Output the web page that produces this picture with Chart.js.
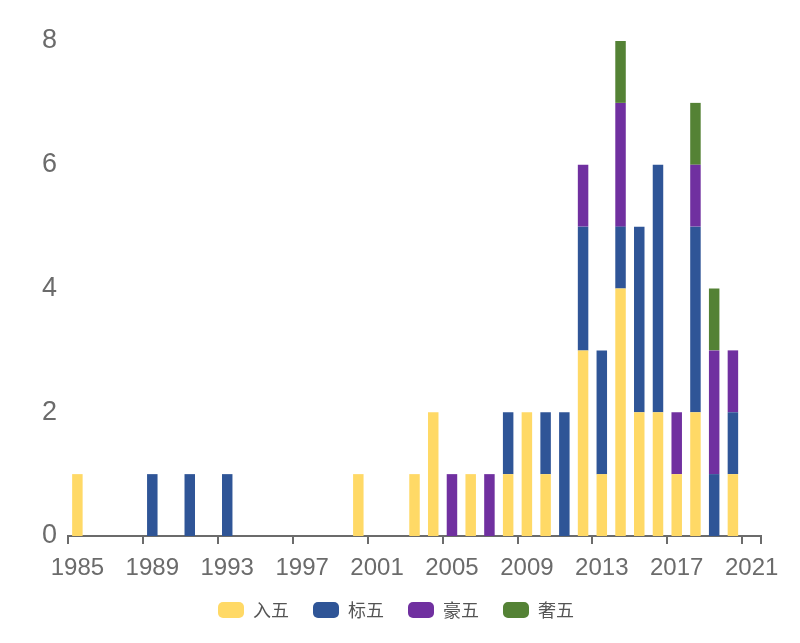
<!DOCTYPE html>
<html>
<head>
<meta charset="utf-8">
<script src="https://cdn.jsdelivr.net/npm/chart.js@4/dist/chart.umd.min.js"></script>
<style>
  html, body { margin: 0; padding: 0; background: #fff; }
  #wrap { width: 800px; height: 643px; }
</style>
</head>
<body>
<div id="wrap"><canvas id="grafico" width="800" height="643"></canvas></div>
<script>
// 年份 1985 - 2021
const years = [];
for (let y = 1985; y <= 2021; y++) years.push(String(y));

//                1985                    1990                    1995                    2000                    2005                    2010                    2015                    2020
const ruWu   = [1, 0, 0, 0, 0, 0, 0, 0, 0, 0, 0, 0, 0, 0, 0, 1, 0, 0, 1, 2, 0, 1, 0, 1, 2, 1, 0, 3, 1, 4, 2, 2, 1, 2, 0, 1, 0];
const biaoWu = [0, 0, 0, 0, 1, 0, 1, 0, 1, 0, 0, 0, 0, 0, 0, 0, 0, 0, 0, 0, 0, 0, 0, 1, 0, 1, 2, 2, 2, 1, 3, 4, 0, 3, 1, 1, 0];
const haoWu  = [0, 0, 0, 0, 0, 0, 0, 0, 0, 0, 0, 0, 0, 0, 0, 0, 0, 0, 0, 0, 1, 0, 1, 0, 0, 0, 0, 1, 0, 2, 0, 0, 1, 1, 2, 1, 0];
const sheWu  = [0, 0, 0, 0, 0, 0, 0, 0, 0, 0, 0, 0, 0, 0, 0, 0, 0, 0, 0, 0, 0, 0, 0, 0, 0, 0, 0, 0, 0, 1, 0, 0, 0, 1, 1, 0, 0];

const yTicks = [0, 2, 4, 6, 8];

const cinza = '#6b6b6b';
const fonte = '"Liberation Sans", Arial, "Noto Sans CJK SC", sans-serif';

const ctx = document.getElementById('grafico').getContext('2d');
new Chart(ctx, {
    type: 'bar',
    data: {
        labels: years,
        datasets: [
            { label: '入五', data: ruWu,   backgroundColor: '#FFD966' },
            { label: '标五', data: biaoWu, backgroundColor: '#2F5597' },
            { label: '豪五', data: haoWu,  backgroundColor: '#7030A0' },
            { label: '奢五', data: sheWu,  backgroundColor: '#548235' }
        ]
    },
    options: {
        responsive: false,
        animation: false,
        datasets: {
            bar: { categoryPercentage: 1, barPercentage: 0.56 }
        },
        layout: {
            padding: { left: 31, right: 39, top: 41, bottom: 14 }
        },
        plugins: {
            tooltip: { enabled: false },
            legend: {
                position: 'bottom',
                labels: {
                    color: '#555',
                    boxWidth: 26,
                    boxHeight: 16,
                    useBorderRadius: true,
                    borderRadius: 5,
                    padding: 24,
                    font: { size: 18, family: '"Noto Sans CJK SC", sans-serif' }
                }
            }
        },
        scales: {
            x: {
                stacked: true,
                offset: true,
                border: { display: true, color: cinza, width: 2 },
                grid: {
                    offset: true,
                    drawOnChartArea: false,
                    drawTicks: true,
                    tickLength: 8,
                    lineWidth: 2,
                    color: (c) => (c.index === undefined || c.index % 4 === 0) ? cinza : 'rgba(0,0,0,0)'
                },
                // aproxima os rótulos da legenda
                afterFit: (scale) => { scale.height -= 15; },
                ticks: {
                    autoSkip: false,
                    maxRotation: 0,
                    color: cinza,
                    padding: 12,
                    font: { size: 24, family: fonte, lineHeight: 1 },
                    callback: function (v, i) { return i % 4 === 0 ? this.getLabelForValue(v) : ''; }
                }
            },
            y: {
                stacked: true,
                min: 0,
                max: 8,
                border: { display: false },
                grid: { display: false, drawTicks: false },
                afterBuildTicks: (axis) => { axis.ticks = yTicks.map(v => ({ value: v })); },
                ticks: {
                    color: cinza,
                    padding: 11,
                    font: { size: 27, family: fonte }
                }
            }
        }
    }
});
</script>
</body>
</html>
